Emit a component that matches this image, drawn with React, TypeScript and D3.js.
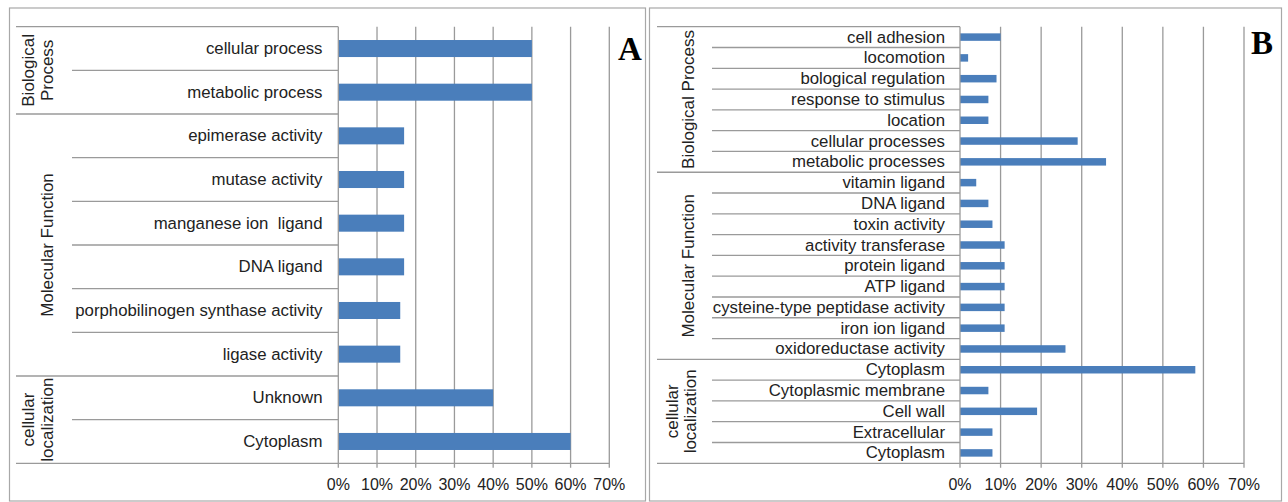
import * as React from 'react';
import * as d3 from 'd3';

// panel A
const aCategories = [
  'cellular process', 'metabolic process',
  'epimerase activity', 'mutase activity', 'manganese ion  ligand', 'DNA ligand',
  'porphobilinogen synthase activity', 'ligase activity',
  'Unknown', 'Cytoplasm',
];
const aValues = [50, 50, 17, 17, 17, 17, 16, 16, 40, 60];
const aGroups = [
  { lines: ['Biological', 'Process'], count: 2 },
  { lines: ['Molecular Function'], count: 6 },
  { lines: ['cellular', 'localization'], count: 2 },
];

// panel B
const bCategories = [
  'cell adhesion', 'locomotion', 'bological regulation', 'response to stimulus',
  'location', 'cellular processes', 'metabolic processes',
  'vitamin ligand', 'DNA ligand', 'toxin activity', 'activity transferase',
  'protein ligand', 'ATP ligand', 'cysteine-type peptidase activity',
  'iron ion ligand', 'oxidoreductase activity',
  'Cytoplasm', 'Cytoplasmic membrane', 'Cell wall', 'Extracellular', 'Cytoplasm',
];
const bValues = [10, 2, 9, 7, 7, 29, 36, 4, 7, 8, 11, 11, 11, 11, 11, 26, 58, 7, 19, 8, 8];
const bGroups = [
  { lines: ['Biological Process'], count: 7 },
  { lines: ['Molecular Function'], count: 9 },
  { lines: ['cellular', 'localization'], count: 5 },
];

const ticks = [0, 10, 20, 30, 40, 50, 60, 70];

const FONT = '"Liberation Sans", Arial, sans-serif';
const GRID = '#9a9a9a';
const BAR = '#4a7ebb';

type Group = { lines: string[]; count: number };

type PanelProps = {
  letter: string;
  categories: string[];
  values: number[];
  groups: Group[];
  frame: [number, number];
  x0: number;
  x70: number;
  labelRight: number;
  groupStart: number;
  rowStart: number;
  groupTextX: number[];
  singleTextX: number;
  letterPos: [number, number];
  barRatio: number;
};

function Panel(p: PanelProps) {
  const top = 26.7;
  const bottom = 463.3;
  const x = d3.scaleLinear().domain([0, 70]).range([p.x0, p.x70]);
  const idx = p.categories.map((_, i) => i);
  const y = d3.scaleBand<number>().domain(idx).range([top, bottom]);
  const bw = y.bandwidth();
  const barH = bw * p.barRatio;

  // group boundaries
  const bounds: number[] = [0];
  p.groups.forEach(g => bounds.push(bounds[bounds.length - 1] + g.count));
  const boundaryY = (k: number) => top + k * bw;

  return (
    <g>
      <rect x={p.frame[0]} y={8} width={p.frame[1] - p.frame[0]} height={493}
        fill="white" stroke="#a8a8a8" strokeWidth={1.2} />
      {/* gridlines */}
      {ticks.slice(1).map(t => (
        <line key={t} x1={x(t)} x2={x(t)} y1={top} y2={bottom + 4.5} stroke={GRID} strokeWidth={1.3} />
      ))}
      {/* row separators */}
      {idx.slice(1).map(i => bounds.includes(i) ? null : (
        <line key={'r' + i} x1={p.rowStart} x2={p.x0} y1={boundaryY(i)} y2={boundaryY(i)} stroke={GRID} strokeWidth={1.3} />
      ))}
      {/* group separators */}
      {bounds.map(k => (
        <line key={'g' + k} x1={p.groupStart} x2={p.x0} y1={boundaryY(k)} y2={boundaryY(k)} stroke={GRID} strokeWidth={1.3} />
      ))}
      {/* bars */}
      {p.values.map((v, i) => (
        <rect key={'b' + i} x={x(0)} y={(y(i) as number) + (bw - barH) / 2}
          width={x(v) - x(0)} height={barH} fill={BAR} />
      ))}
      {/* axis */}
      <line x1={p.x0} x2={p.x0} y1={top} y2={bottom + 4.5} stroke={GRID} strokeWidth={1.3} />
      <line x1={p.x0} x2={p.x70} y1={bottom} y2={bottom} stroke={GRID} strokeWidth={1.3} />
      {ticks.map(t => (
        <text key={'t' + t} x={x(t)} y={490} textAnchor="middle" fontFamily={FONT} fontSize={16} fill="#222">
          {t + '%'}
        </text>
      ))}
      {/* category labels */}
      {p.categories.map((c, i) => (
        <text key={'c' + i} x={p.labelRight} y={(y(i) as number) + bw / 2} textAnchor="end"
          dominantBaseline="central" fontFamily={FONT} fontSize={16.8} fill="#222" style={{ whiteSpace: 'pre' }}>
          {c}
        </text>
      ))}
      {/* group labels */}
      {p.groups.map((g, gi) => {
        const cy = (boundaryY(bounds[gi]) + boundaryY(bounds[gi + 1])) / 2;
        return g.lines.map((l, li) => {
          const tx = g.lines.length === 1 ? p.singleTextX : p.groupTextX[li];
          return (
            <text key={'gl' + gi + li} transform={`translate(${tx},${cy}) rotate(-90)`} textAnchor="middle"
              dominantBaseline="central" fontFamily={FONT} fontSize={17} fill="#222">
              {l}
            </text>
          );
        });
      })}
      <text x={p.letterPos[0]} y={p.letterPos[1]} textAnchor="middle" fontFamily='"Liberation Serif", "Times New Roman", serif'
        fontWeight="bold" fontSize={33} fill="#000">
        {p.letter}
      </text>
    </g>
  );
}

export default function App() {
  return (
    <svg width={1288} height={502} style={{ position: 'absolute', left: 0, top: 0, background: 'white' }}>
      <Panel letter="A" categories={aCategories} values={aValues} groups={aGroups}
        frame={[9.5, 645.5]} x0={338.3} x70={609.3} labelRight={322.5}
        groupStart={16} rowStart={72} groupTextX={[28, 47]} singleTextX={47}
        letterPos={[630, 60]} barRatio={0.39} />
      <Panel letter="B" categories={bCategories} values={bValues} groups={bGroups}
        frame={[649.5, 1281.5]} x0={960} x70={1244} labelRight={945}
        groupStart={657} rowStart={712} groupTextX={[672, 690]} singleTextX={688}
        letterPos={[1262, 54]} barRatio={0.36} />
    </svg>
  );
}
